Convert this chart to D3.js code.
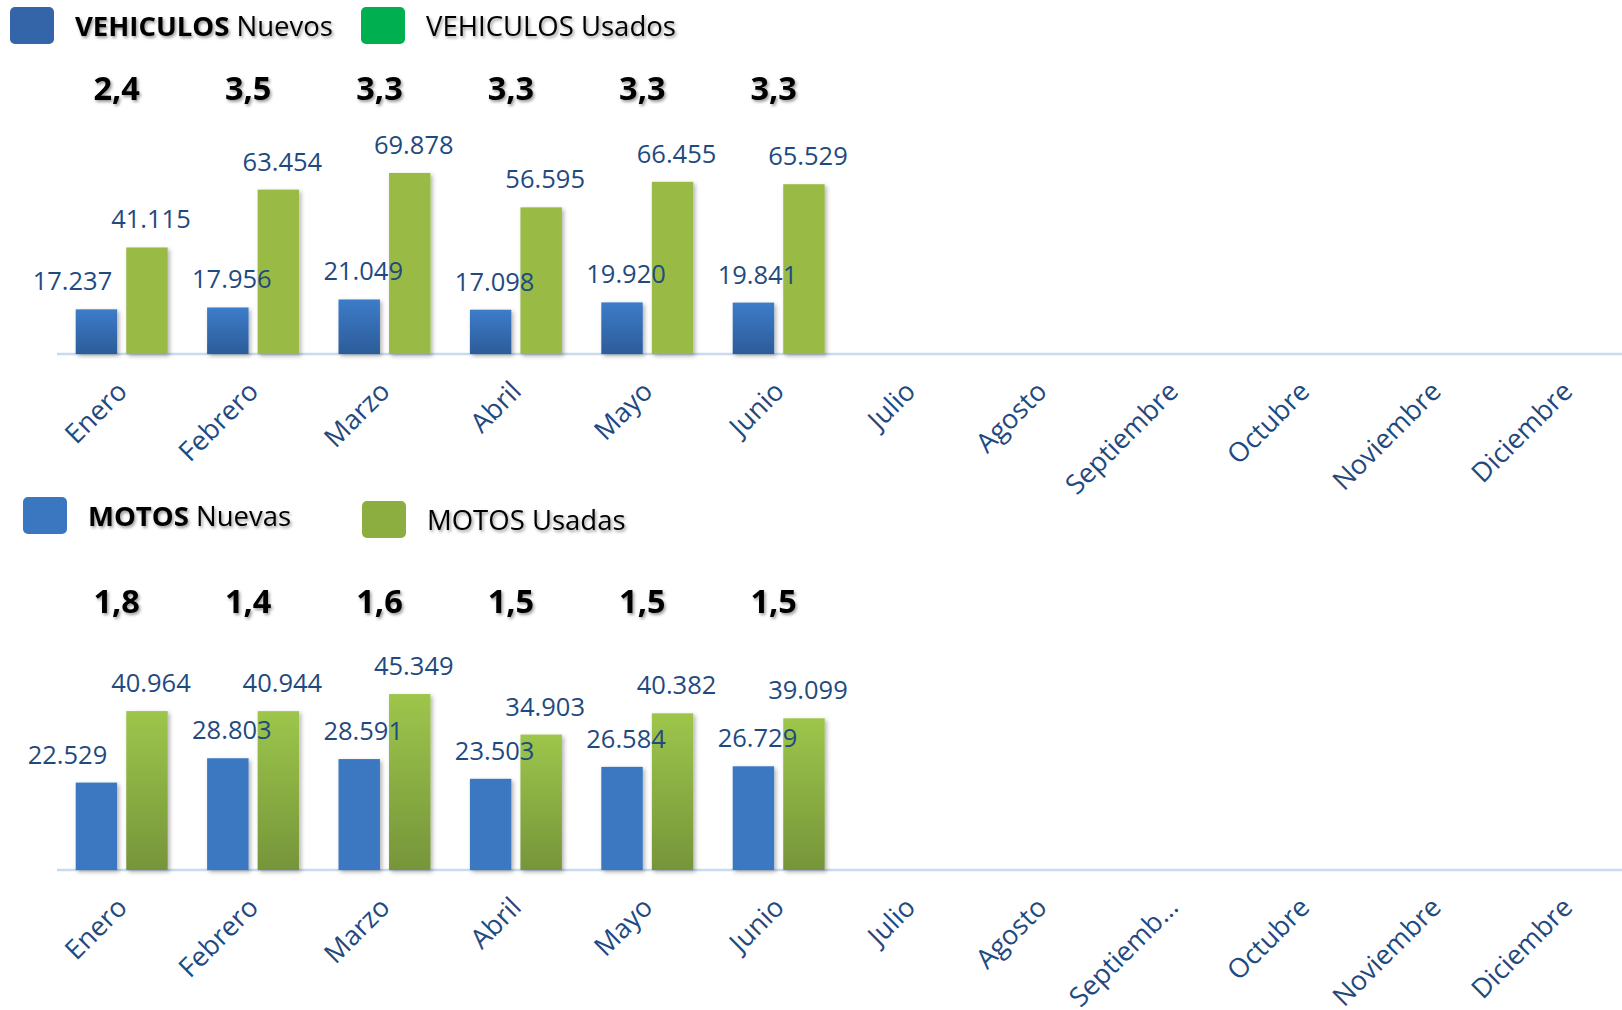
<!DOCTYPE html>
<html>
<head>
<meta charset="utf-8">
<script src="https://cdn.jsdelivr.net/npm/d3@7"></script>
<style>
  body { margin: 0; background: #fff; }
  svg { display: block; font-family: "Open Sans", "Noto Sans", sans-serif; }
</style>
</head>
<body>
<div id="chart"></div>
<script>
// datos
const months = ["Enero", "Febrero", "Marzo", "Abril", "Mayo", "Junio", "Julio", "Agosto", "Septiembre", "Octubre", "Noviembre", "Diciembre"];
const monthsMotos = ["Enero", "Febrero", "Marzo", "Abril", "Mayo", "Junio", "Julio", "Agosto", "Septiemb…", "Octubre", "Noviembre", "Diciembre"];

const vehiculosNuevos = [17237, 17956, 21049, 17098, 19920, 19841];
const vehiculosUsados = [41115, 63454, 69878, 56595, 66455, 65529];
const vehiculosRatio = [2.4, 3.5, 3.3, 3.3, 3.3, 3.3];

const motosNuevas = [22529, 28803, 28591, 23503, 26584, 26729];
const motosUsadas = [40964, 40944, 45349, 34903, 40382, 39099];
const motosRatio = [1.8, 1.4, 1.6, 1.5, 1.5, 1.5];

const width = 1622, height = 1010;
const locale = d3.formatLocale({decimal: ",", thousands: ".", grouping: [3], currency: ["", ""]});
const fmtInt = locale.format(",d");
const fmtRatio = locale.format(".1f");

const svg = d3.select("#chart").append("svg")
    .attr("width", width)
    .attr("height", height);

const defs = svg.append("defs");
defs.append("filter").attr("id", "txtShadow")
    .attr("x", "-10%").attr("y", "-20%").attr("width", "130%").attr("height", "150%")
    .append("feDropShadow")
    .attr("dx", 1.5).attr("dy", 2).attr("stdDeviation", 1.4)
    .attr("flood-color", "#000").attr("flood-opacity", 0.4);
defs.append("filter").attr("id", "barShadow")
    .attr("x", "-20%").attr("y", "-5%").attr("width", "150%").attr("height", "115%")
    .append("feDropShadow")
    .attr("dx", 2).attr("dy", 2).attr("stdDeviation", 2)
    .attr("flood-color", "#000").attr("flood-opacity", 0.3);

function gradient(id, top, bottom) {
  const g = defs.append("linearGradient").attr("id", id)
      .attr("x1", 0).attr("y1", 0).attr("x2", 0).attr("y2", 1);
  g.append("stop").attr("offset", "0%").attr("stop-color", top);
  g.append("stop").attr("offset", "100%").attr("stop-color", bottom);
}
gradient("blueGrad", "#3d7cc9", "#2c5c99");
gradient("greenGrad", "#9dc64b", "#76953a");

// escala x común
const x0 = d3.scaleBand()
    .domain(d3.range(12))
    .range([56, 56 + 12 * 131.4])
    .paddingInner(0.3)
    .paddingOuter(0.15);
const x1 = d3.scaleBand()
    .domain(["nuevo", "usado"])
    .range([0, x0.bandwidth()])
    .paddingInner(0.18);

function drawPanel(p) {
  const g = svg.append("g");
  const y = d3.scaleLinear().domain([0, p.max]).range([p.base, p.base - p.pxPerUnit * p.max]);

  // leyenda
  p.legend.forEach(l => {
    g.append("rect")
        .attr("x", l.x).attr("y", l.y)
        .attr("width", 44).attr("height", 37)
        .attr("rx", 5)
        .attr("fill", l.color);
    const t = g.append("text")
        .attr("x", l.x + 65).attr("y", l.y + 29)
        .attr("font-size", 27.5)
        .attr("fill", "#000")
        .attr("filter", "url(#txtShadow)");
    t.append("tspan").attr("font-weight", l.bold ? 700 : 400).text(l.first);
    t.append("tspan").text(" " + l.second);
  });

  // relación usados / nuevos
  g.append("g").selectAll("text")
      .data(p.ratio)
      .join("text")
      .attr("x", (d, i) => x0(i) + x0.bandwidth() / 2 - 5)
      .attr("y", p.ratioY)
      .attr("text-anchor", "middle")
      .attr("font-size", 32.5)
      .attr("font-weight", 700)
      .attr("fill", "#000")
      .attr("filter", "url(#txtShadow)")
      .text(d => fmtRatio(d));

  // línea base
  g.append("line")
      .attr("x1", 57).attr("x2", width)
      .attr("y1", p.base).attr("y2", p.base)
      .attr("stroke", "#c9dbf0")
      .attr("stroke-width", 2.5);

  const rows = p.nuevos.map((v, i) => ({i, nuevo: v, usado: p.usados[i]}));
  const groups = g.append("g").selectAll("g")
      .data(rows)
      .join("g")
      .attr("transform", d => `translate(${x0(d.i)},0)`);

  groups.selectAll("rect")
      .data(d => [{k: "nuevo", v: d.nuevo, i: d.i}, {k: "usado", v: d.usado, i: d.i}])
      .join("rect")
      .attr("x", d => x1(d.k))
      .attr("y", d => y(d.v))
      .attr("width", x1.bandwidth())
      .attr("height", d => y(0) - y(d.v))
      .attr("fill", d => d.k === "nuevo" ? p.blue : p.green)
      .attr("filter", "url(#barShadow)");

  groups.selectAll("text")
      .data(d => [{k: "nuevo", v: d.nuevo, i: d.i}, {k: "usado", v: d.usado, i: d.i}])
      .join("text")
      .attr("x", d => x1(d.k) + x1.bandwidth() / 2 + (d.k === "nuevo" && d.i === 0 ? p.firstNudge : 4))
      .attr("y", d => y(d.v) - 19)
      .attr("text-anchor", "middle")
      .attr("font-size", 25.5)
      .attr("fill", "#1f4a80")
      .text(d => fmtInt(d.v));

  // etiquetas de meses
  g.append("g").selectAll("text")
      .data(p.labels)
      .join("text")
      .attr("transform", (d, i) => `translate(${x0(i) + x0.bandwidth() / 2 + 7},${p.base + 39}) rotate(-45)`)
      .attr("text-anchor", "end")
      .attr("font-size", 27)
      .attr("fill", "#1f4a80")
      .text(d => d);
}

drawPanel({
  base: 354, max: 80000, pxPerUnit: 2.591 / 1000,
  nuevos: vehiculosNuevos, usados: vehiculosUsados, ratio: vehiculosRatio,
  ratioY: 100, labels: months, firstNudge: -24,
  blue: "url(#blueGrad)", green: "#99bb45",
  legend: [
    {x: 10, y: 7, color: "#3465a8", bold: true, first: "VEHICULOS", second: "Nuevos"},
    {x: 361, y: 7, color: "#00b050", bold: false, first: "VEHICULOS", second: "Usados"}
  ]
});

drawPanel({
  base: 870, max: 50000, pxPerUnit: 3.88 / 1000,
  nuevos: motosNuevas, usados: motosUsadas, ratio: motosRatio,
  ratioY: 613, labels: monthsMotos, firstNudge: -29,
  blue: "#3b78c1", green: "url(#greenGrad)",
  legend: [
    {x: 23, y: 497, color: "#3a77c0", bold: true, first: "MOTOS", second: "Nuevas"},
    {x: 362, y: 501, color: "#8cae41", bold: false, first: "MOTOS", second: "Usadas"}
  ]
});
</script>
</body>
</html>
